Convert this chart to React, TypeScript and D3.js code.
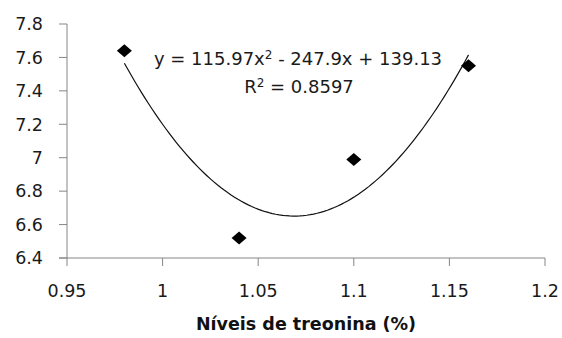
import * as d3 from 'd3';

const xValues = [0.98, 1.04, 1.1, 1.16];
const yValues = [7.64, 6.52, 6.99, 7.55];
const xTicks = [0.95, 1, 1.05, 1.1, 1.15, 1.2];
const yTicks = [6.4, 6.6, 6.8, 7, 7.2, 7.4, 7.6, 7.8];
const fitCoefficients = [115.97, -247.9, 139.13];
const equationLabel = 'y = 115.97x';
const equationRest = '- 247.9x + 139.13';
const r2Value = '0.8597';
const xAxisTitle = 'Níveis de treonina (%)';

const width = 562;
const height = 338;
const margin = { top: 24, right: 17, bottom: 80, left: 67 };
const font = '"DejaVu Sans", sans-serif';
const axisColor = '#868686';

export default function App() {
  const x = d3.scaleLinear().domain([0.95, 1.2]).range([margin.left, width - margin.right]);
  const y = d3.scaleLinear().domain([6.4, 7.8]).range([height - margin.bottom, margin.top]);

  // polynomial trendline from the fitted coefficients
  const [a, b, c] = fitCoefficients;
  const fit = (v: number) => a * v * v + b * v + c;
  const xs = d3.range(0, 101).map((i) => 0.98 + ((1.16 - 0.98) * i) / 100);
  const line = d3
    .line<number>()
    .x((v) => x(v))
    .y((v) => y(fit(v)));

  const diamond = (cx: number, cy: number) =>
    `M${cx},${cy - 6.5}L${cx + 7.5},${cy}L${cx},${cy + 6.5}L${cx - 7.5},${cy}Z`;

  return (
    <svg
      width={width}
      height={height}
      style={{ position: 'absolute', left: 0, top: 0, background: '#fff' }}
      fontFamily={font}
    >
      {/* axes */}
      <line x1={x(0.95)} x2={x(0.95)} y1={y(6.4)} y2={y(7.8)} stroke={axisColor} />
      <line x1={x(0.95) - 8} x2={x(1.2)} y1={y(6.4)} y2={y(6.4)} stroke={axisColor} />
      {yTicks.map((t) => (
        <g key={'y' + t}>
          <line x1={x(0.95) - 8} x2={x(0.95)} y1={y(t)} y2={y(t)} stroke={axisColor} />
          <text x={43} y={y(t)} dy="0.36em" textAnchor="end" fontSize={17.5} fill="#1a1a1a">
            {String(t)}
          </text>
        </g>
      ))}
      {xTicks.map((t) => (
        <g key={'x' + t}>
          <line x1={x(t)} x2={x(t)} y1={y(6.4)} y2={y(6.4) + 8} stroke={axisColor} />
          <text x={x(t)} y={297} textAnchor="middle" fontSize={17.5} fill="#1a1a1a">
            {String(t)}
          </text>
        </g>
      ))}
      <text x={(x(0.95) + x(1.2)) / 2} y={330} textAnchor="middle" fontSize={17.5} fontWeight="bold" fill="#111">
        {xAxisTitle}
      </text>

      {/* trendline */}
      <path d={line(xs) ?? ''} fill="none" stroke="#111" strokeWidth={1.2} />

      {/* points */}
      {xValues.map((v, i) => (
        <path key={'p' + i} d={diamond(x(v), y(yValues[i]))} fill="#000" />
      ))}

      {/* equation */}
      <text x={298} y={65} textAnchor="middle" fontSize={18} fill="#1a1a1a">
        {equationLabel}
        <tspan dy={-6} fontSize={12}>2</tspan>
        <tspan dy={6}> {equationRest}</tspan>
      </text>
      <text x={299} y={93} textAnchor="middle" fontSize={18} fill="#1a1a1a">
        R<tspan dy={-6} fontSize={12}>2</tspan>
        <tspan dy={6}> = {r2Value}</tspan>
      </text>
    </svg>
  );
}
